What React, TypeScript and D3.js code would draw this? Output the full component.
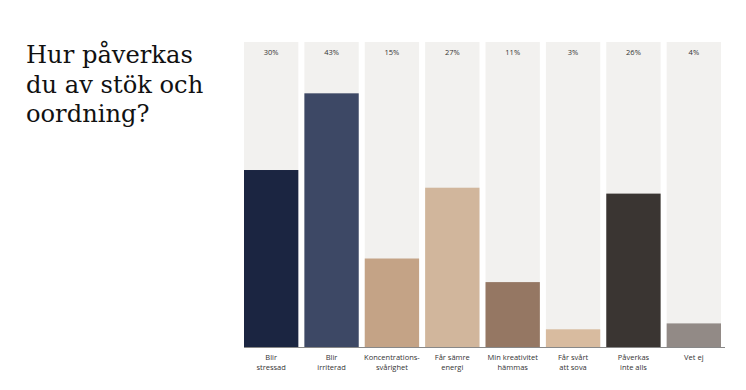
import React from "react";
import * as d3 from "d3";

const categories: string[][] = [
  ["Blir", "stressad"],
  ["Blir", "irriterad"],
  ["Koncentrations-", "svårighet"],
  ["Får sämre", "energi"],
  ["Min kreativitet", "hämmas"],
  ["Får svårt", "att sova"],
  ["Påverkas", "inte alls"],
  ["Vet ej"],
];
const values: number[] = [30, 43, 15, 27, 11, 3, 26, 4];
const colors: string[] = ["#1b2541", "#3d4865", "#c4a386", "#d1b69c", "#957763", "#d8bb9f", "#3a3532", "#928a86"];
const titleLines: string[] = ["Hur påverkas", "du av stök och", "oordning?"];

export default function App() {
  const W = 746, H = 390;
  const x = d3.scaleBand<number>().domain(values.map((_, i) => i)).range([244, 721]).paddingInner(0.1).paddingOuter(0);
  const y = d3.scaleLinear().domain([0, 51.7]).range([347, 42]);
  const sans = "'Open Sans', 'Noto Sans', sans-serif";
  return (
    <svg width={W} height={H} style={{ position: "absolute", left: 0, top: 0, background: "#fff" }}>
      {titleLines.map((t, i) => (
        <text key={i} x={26} y={63 + i * 29.5} fontFamily="'DejaVu Serif', serif" fontSize={24.2} fill="#111">{t}</text>
      ))}
      {values.map((v, i) => (
        <g key={i}>
          <rect x={x(i)} y={y(51.7)} width={x.bandwidth()} height={y(0) - y(51.7)} fill="#f2f1ef" />
          <rect x={x(i)} y={y(v)} width={x.bandwidth()} height={y(0) - y(v)} fill={colors[i]} />
          <text x={x(i)! + x.bandwidth() / 2} y={55} textAnchor="middle" fontFamily={sans} fontSize={7.5} fill="#333">{v}%</text>
          {categories[i].map((l, j) => (
            <text key={j} x={x(i)! + x.bandwidth() / 2} y={360 + j * 9.5} textAnchor="middle" fontFamily={sans} fontSize={7.5} fill="#333">{l}</text>
          ))}
        </g>
      ))}
      <line x1={244} x2={725} y1={347.5} y2={347.5} stroke="#888" strokeWidth={1} />
    </svg>
  );
}
